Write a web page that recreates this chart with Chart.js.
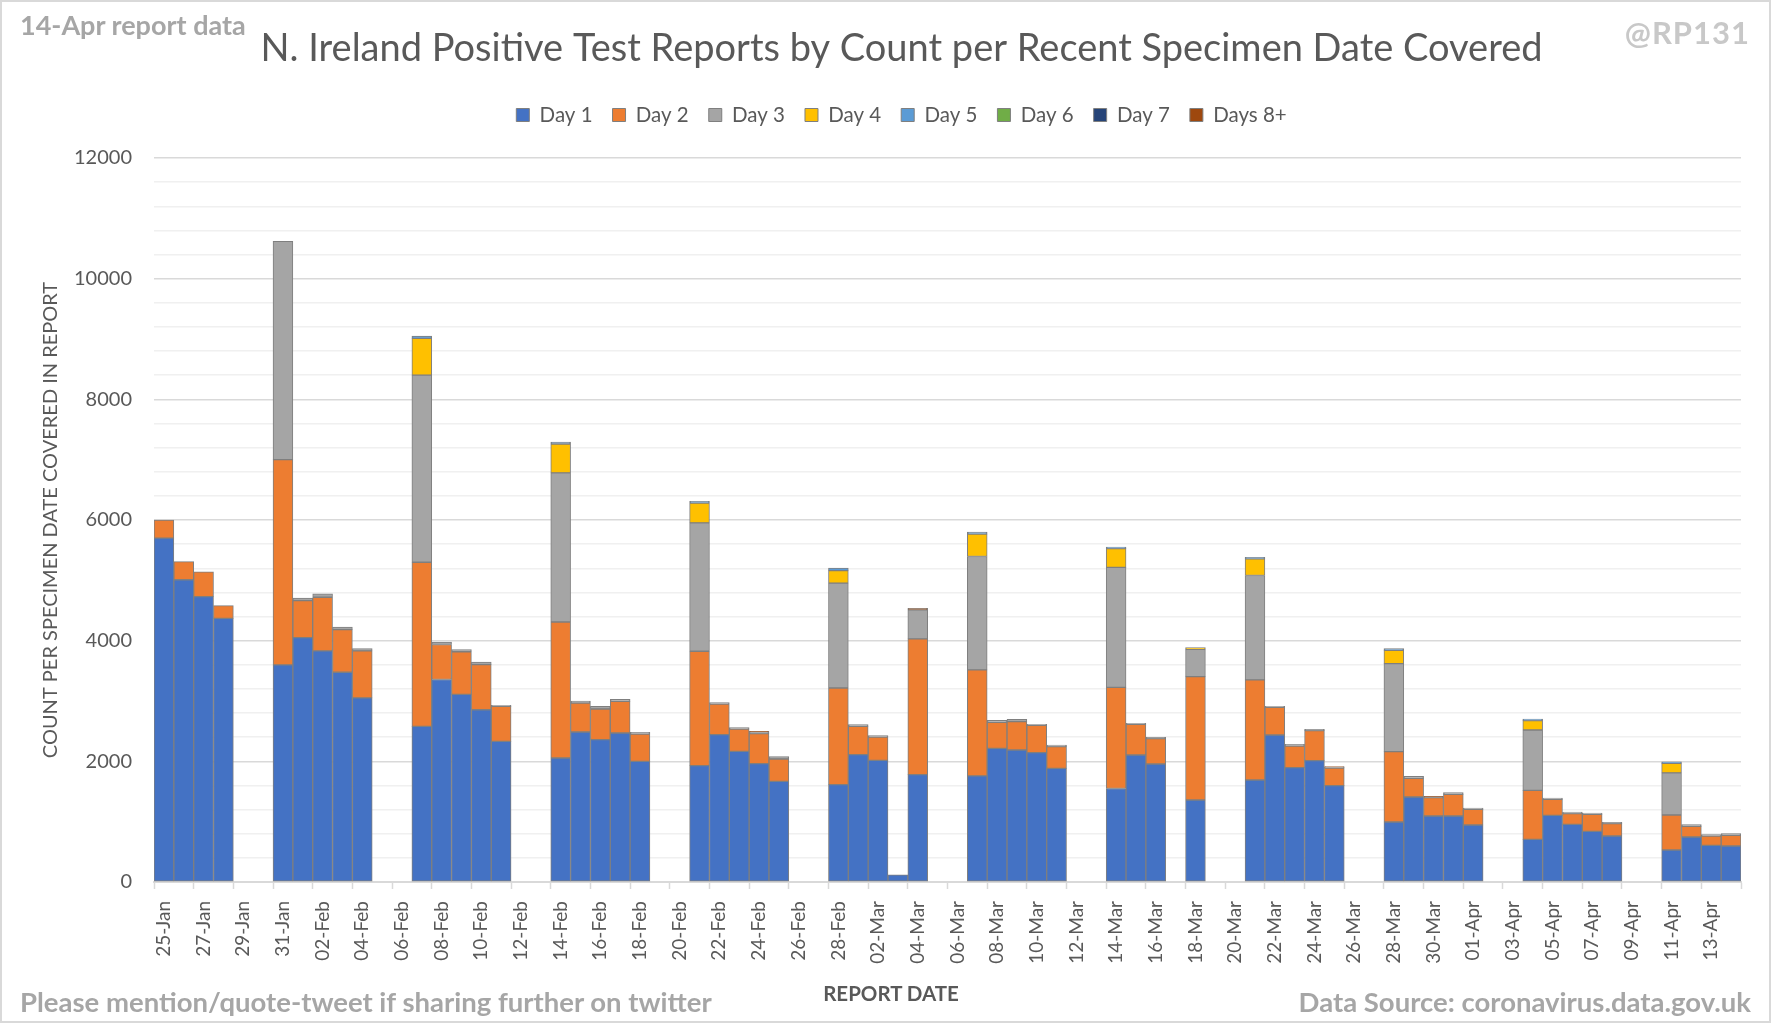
<!DOCTYPE html>
<html>
<head>
<meta charset="utf-8">
<script src="https://cdn.jsdelivr.net/npm/chart.js@4/dist/chart.umd.min.js"></script>
<style>
  body { margin: 0; background: #fff; }
  #wrap { position: relative; width: 1771px; height: 1023px; }
  .note { position: absolute; font-family: Lato, sans-serif; font-weight: bold; color: #a6a6a6; white-space: nowrap; line-height: 1; }
  #rep { left: 20px; top: 11px; font-size: 27px; }
  #tag { right: 21px; top: 17px; font-size: 31px; color: #c8c8c8; letter-spacing: 1px; }
  #mention { left: 20px; top: 988px; font-size: 27.5px; }
  #source { right: 20px; top: 988px; font-size: 27.5px; }
  #xtitle { left: 891px; top: 983px; font-size: 20.5px; color: #595959; transform: translateX(-50%); }
  #frame { position: absolute; left: 0; top: 0; right: 0; bottom: 0; border: 2px solid #d9d9d9; pointer-events: none; }
</style>
</head>
<body>
<div id="wrap">
  <canvas id="myChart"></canvas>
  <div class="note" id="rep">14-Apr report data</div>
  <div class="note" id="tag">@RP131</div>
  <div class="note" id="xtitle">REPORT DATE</div>
  <div class="note" id="mention">Please mention/quote-tweet if sharing further on twitter</div>
  <div class="note" id="source">Data Source: coronavirus.data.gov.uk</div>
  <div id="frame"></div>
</div>
<script>
const _ = null;

// report dates, 25-Jan to 14-Apr
const reportDates = [
  "25-Jan", "26-Jan", "27-Jan", "28-Jan", "29-Jan", "30-Jan",
  "31-Jan", "01-Feb", "02-Feb", "03-Feb", "04-Feb", "05-Feb", "06-Feb",
  "07-Feb", "08-Feb", "09-Feb", "10-Feb", "11-Feb", "12-Feb", "13-Feb",
  "14-Feb", "15-Feb", "16-Feb", "17-Feb", "18-Feb", "19-Feb", "20-Feb",
  "21-Feb", "22-Feb", "23-Feb", "24-Feb", "25-Feb", "26-Feb", "27-Feb",
  "28-Feb", "01-Mar", "02-Mar", "03-Mar", "04-Mar", "05-Mar", "06-Mar",
  "07-Mar", "08-Mar", "09-Mar", "10-Mar", "11-Mar", "12-Mar", "13-Mar",
  "14-Mar", "15-Mar", "16-Mar", "17-Mar", "18-Mar", "19-Mar", "20-Mar",
  "21-Mar", "22-Mar", "23-Mar", "24-Mar", "25-Mar", "26-Mar", "27-Mar",
  "28-Mar", "29-Mar", "30-Mar", "31-Mar", "01-Apr", "02-Apr", "03-Apr",
  "04-Apr", "05-Apr", "06-Apr", "07-Apr", "08-Apr", "09-Apr", "10-Apr",
  "11-Apr", "12-Apr", "13-Apr", "14-Apr"
];

const day1 = [
  5700, 5010, 4730, 4370, _, _,
  3600, 4050, 3830, 3477, 3053, _, _,
  2580, 3357, 3109, 2855, 2332, _, _,
  2055, 2486, 2359, 2470, 2000, _, _,
  1930, 2442, 2166, 1961, 1669, _, _,
  1615, 2111, 2017, 120, 1780, _, _,
  1760, 2216, 2188, 2144, 1884, _, _,
  1550, 2105, 1956, _, 1359, _, _,
  1690, 2437, 1895, 2011, 1597, _, _,
  995, 1409, 1094, 1094, 945, _, _,
  707, 1105, 956, 840, 762, _, _,
  530, 746, 608, 597
];
const day2 = [
  300, 300, 410, 210, _, _,
  3400, 615, 890, 707, 777, _, _,
  2720, 579, 707, 749, 580, _, _,
  2255, 481, 509, 525, 453, _, _,
  1895, 508, 370, 498, 370, _, _,
  1600, 469, 386, _, 2250, _, _,
  1755, 430, 470, 453, 359, _, _,
  1675, 508, 420, _, 2045, _, _,
  1660, 458, 359, 497, 293, _, _,
  1165, 309, 304, 359, 259, _, _,
  812, 265, 177, 282, 205, _, _,
  580, 177, 154, 177
];
const day3 = [
  _, _, _, _, _, _,
  3620, 40, 55, 40, 40, _, _,
  3100, 40, 35, 40, 15, _, _,
  2470, 33, 45, 33, 28, _, _,
  2127, 23, 22, 25, 40, _, _,
  1740, 28, 22, _, 480, _, _,
  1880, 34, 38, 16, 28, _, _,
  1990, 17, 22, _, 453, _, _,
  1730, 17, 28, 22, 12, _, _,
  1460, 33, 12, 28, 23, _, _,
  1000, 22, 27, 22, 22, _, _,
  700, 27, 23, 27
];
const day4 = [
  _, _, _, _, _, _,
  _, _, _, _, _, _, _,
  610, _, _, _, _, _, _,
  480, _, _, _, _, _, _,
  330, _, _, _, _, _, _,
  205, _, _, _, _, _, _,
  370, _, _, _, _, _, _,
  310, _, _, _, 28, _, _,
  275, _, _, _, _, _, _,
  220, _, _, _, _, _, _,
  155, _, _, _, _, _, _,
  155, _, _, _
];
const day5 = [
  _, _, _, _, _, _,
  _, _, _, _, _, _, _,
  40, _, _, _, _, _, _,
  33, _, _, _, _, _, _,
  28, _, _, _, _, _, _,
  45, _, _, _, _, _, _,
  33, _, _, _, _, _, _,
  27, _, _, _, _, _, _,
  27, _, _, _, _, _, _,
  28, _, _, _, _, _, _,
  28, _, _, _, _, _, _,
  28, _, _, _
];
const day6 = [
  _, _, _, _, _, _,
  _, _, _, _, _, _, _,
  _, _, _, _, _, _, _,
  _, _, _, _, _, _, _,
  _, _, _, _, _, _, _,
  _, _, _, _, _, _, _,
  _, _, _, _, _, _, _,
  _, _, _, _, _, _, _,
  _, _, _, _, _, _, _,
  _, _, _, _, _, _, _,
  _, _, _, _, _, _, _,
  _, _, _, _
];
const day7 = day6.slice();
const days8plus = [
  _, _, _, _, _, _,
  _, _, _, _, _, _, _,
  _, _, _, _, _, _, _,
  _, _, _, _, _, _, _,
  _, _, _, 15, _, _, _,
  _, _, _, _, 25, _, _,
  _, _, _, _, _, _, _,
  _, _, _, _, _, _, _,
  _, _, _, _, 10, _, _,
  _, _, 10, _, _, _, _,
  _, _, _, _, _, _, _,
  _, _, _, _
];

const seriesNames = ["Day 1", "Day 2", "Day 3", "Day 4", "Day 5", "Day 6", "Day 7", "Days 8+"];
const seriesData = [day1, day2, day3, day4, day5, day6, day7, days8plus];
const seriesColors = ["#4472C4", "#ED7D31", "#A5A5A5", "#FFC000", "#5B9BD5", "#70AD47", "#264478", "#9E480E"];

const textGrey = "#595959";
Chart.defaults.font.family = "Lato, sans-serif";
Chart.defaults.color = textGrey;

// empty boxes: a strip under the legend, and a margin right of the plot
function spacer(position, size) {
  return {
    position: position,
    weight: 100,
    fullSize: position === "top",
    options: {},
    update(maxWidth, maxHeight) {
      if (position === "top") { this.width = maxWidth; this.height = size; }
      else { this.width = size; this.height = maxHeight; }
    },
    isHorizontal() { return position === "top"; },
    draw() {}
  };
}
const spacers = {
  id: "spacers",
  beforeInit(chart) {
    Chart.layouts.addBox(chart, spacer("top", 22.75));
    Chart.layouts.addBox(chart, spacer("right", 27));
  }
};

const datasets = seriesNames.map((name, i) => ({
  label: name,
  data: seriesData[i],
  backgroundColor: seriesColors[i],
  borderColor: "#7f7f7f",
  borderWidth: 1,
  borderSkipped: false,
  categoryPercentage: 1,
  barPercentage: 1
}));

const ctx = document.getElementById("myChart").getContext("2d");
const chart = new Chart(ctx, {
  type: "bar",
  data: { labels: reportDates, datasets: datasets },
  plugins: [spacers],
  options: {
    responsive: true,
    maintainAspectRatio: false,
    animation: false,
    layout: { padding: { left: 35, right: 3, top: 0, bottom: 0 } },
    plugins: {
      title: {
        display: true,
        text: "N. Ireland Positive Test Reports by Count per Recent Specimen Date Covered",
        color: textGrey,
        font: { size: 38, weight: "normal" },
        padding: { top: 25.8, bottom: 13.35 }
      },
      legend: {
        display: true,
        position: "top",
        labels: { boxWidth: 13, boxHeight: 13, padding: 20, color: textGrey, font: { size: 20.5 } }
      },
      tooltip: { enabled: false }
    },
    scales: {
      x: {
        stacked: true,
        afterFit(scale) { scale.height = 141; },
        grid: {
          display: true,
          drawOnChartArea: false,
          drawTicks: true,
          tickLength: 7,
          tickWidth: 1.5,
          tickColor: (c) => (c.index === undefined || c.index % 2 === 0) ? "#d9d9d9" : "rgba(0,0,0,0)"
        },
        border: { display: true, color: "#d9d9d9", width: 2 },
        ticks: {
          autoSkip: false,
          minRotation: 90,
          maxRotation: 90,
          padding: 12,
          color: textGrey,
          font: { size: 19 },
          callback: function (val, i) { return i % 2 === 0 ? this.getLabelForValue(val) : ""; }
        }
      },
      y: {
        stacked: true,
        min: 0,
        max: 12000,
        afterFit(scale) { scale.width = 119; },
        border: { display: false },
        grid: {
          drawTicks: false,
          color: (c) => c.tick.value % 2000 === 0 ? "#d9d9d9" : "#f0f0f0",
          lineWidth: 1.5
        },
        ticks: {
          stepSize: 400,
          autoSkip: false,
          padding: 22,
          color: textGrey,
          font: { size: 20 },
          callback: (v) => v % 2000 === 0 ? String(v) : ""
        },
        title: {
          display: true,
          text: "COUNT PER SPECIMEN DATE COVERED IN REPORT",
          color: textGrey,
          font: { size: 20 },
          padding: { top: 4, bottom: 4 }
        }
      }
    }
  }
});
</script>
</body>
</html>
